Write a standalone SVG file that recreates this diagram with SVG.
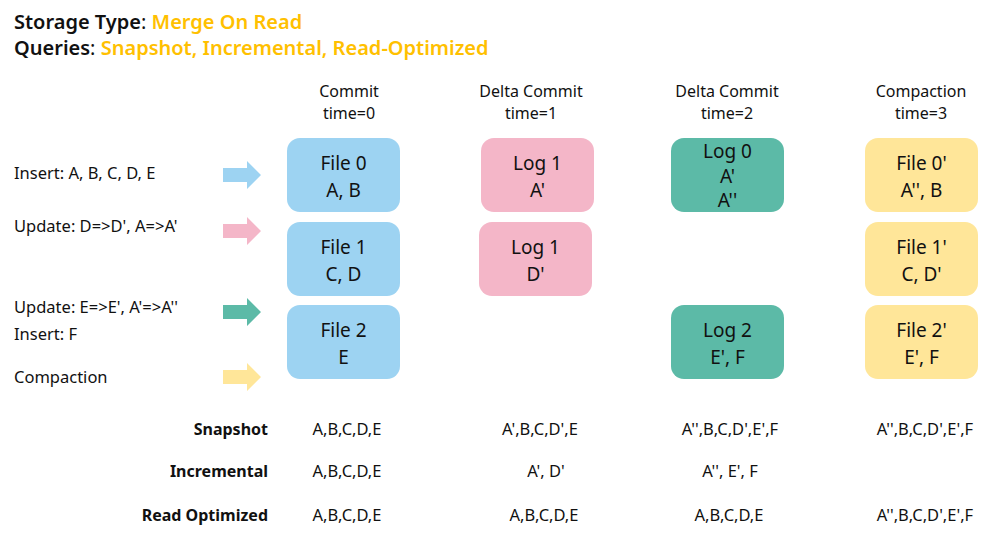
<svg xmlns="http://www.w3.org/2000/svg" width="1005" height="542" viewBox="0 0 1005 542">
<style>
text{font-family:"Noto Sans","Liberation Sans",sans-serif;fill:#111}
.title{font-size:20px;font-weight:600}
.hl{fill:#FFC000}
.hdr{font-size:16px;text-anchor:middle}
.lbl{font-size:16.5px}
.box{font-size:19px;text-anchor:middle}
.rowh{font-size:16px;font-weight:bold;text-anchor:end}
.val{font-size:16.5px;text-anchor:middle}
.blue{fill:#9DD3F2}
.pink{fill:#F4B6C8}
.green{fill:#5CBAA7}
.yellow{fill:#FFE699}
</style>
<rect width="1005" height="542" fill="#fff"/>
<g id="title">
<text class="title" x="14" y="29">Storage Type<tspan font-weight="normal">: </tspan><tspan class="hl">Merge On Read</tspan></text>
<text class="title" x="14" y="55">Queries<tspan font-weight="normal">: </tspan><tspan class="hl">Snapshot, Incremental, Read-Optimized</tspan></text>
</g>
<g id="headers">
<text class="hdr" x="349" y="97">Commit</text><text class="hdr" x="349" y="119">time=0</text>
<text class="hdr" x="531" y="97">Delta Commit</text><text class="hdr" x="531" y="119">time=1</text>
<text class="hdr" x="727" y="97">Delta Commit</text><text class="hdr" x="727" y="119">time=2</text>
<text class="hdr" x="921" y="97">Compaction</text><text class="hdr" x="921" y="119">time=3</text>
</g>
<g id="labels">
<text class="lbl" x="14" y="179">Insert: A, B, C, D, E</text>
<text class="lbl" x="14" y="232">Update: D=&gt;D', A=&gt;A'</text>
<text class="lbl" x="14" y="313">Update: E=&gt;E', A'=&gt;A''</text>
<text class="lbl" x="14" y="340">Insert: F</text>
<text class="lbl" x="14" y="383">Compaction</text>
</g>
<g id="connectors">
<polygon class="blue" points="223,168 247,168 247,161 261,175 247,189 247,182 223,182"/>
<polygon class="pink" points="223,224 247,224 247,217 261,231 247,245 247,238 223,238"/>
<polygon class="green" points="223,305 247,305 247,298 261,312 247,326 247,319 223,319"/>
<polygon class="yellow" points="223,370 247,370 247,363 261,377 247,391 247,384 223,384"/>
</g>
<g id="file0"><rect class="blue" x="287" y="138" width="113" height="74" rx="13"/><text class="box" x="343.5" y="170">File 0</text><text class="box" x="343.5" y="197">A, B</text></g>
<g id="file1"><rect class="blue" x="287" y="222" width="113" height="74" rx="13"/><text class="box" x="343.5" y="254">File 1</text><text class="box" x="343.5" y="281">C, D</text></g>
<g id="file2"><rect class="blue" x="287" y="305" width="113" height="74" rx="13"/><text class="box" x="343.5" y="337">File 2</text><text class="box" x="343.5" y="364">E</text></g>
<g id="log1a"><rect class="pink" x="481" y="138" width="113" height="74" rx="13"/><text class="box" x="537.5" y="170">Log 1</text><text class="box" x="537.5" y="197">A'</text></g>
<g id="log1d"><rect class="pink" x="479" y="222" width="113" height="74" rx="13"/><text class="box" x="535.5" y="254">Log 1</text><text class="box" x="535.5" y="281">D'</text></g>
<g id="log0"><rect class="green" x="671" y="138" width="113" height="74" rx="13"/><text class="box" x="727.5" y="158">Log 0</text><text class="box" x="727.5" y="183">A'</text><text class="box" x="727.5" y="207">A''</text></g>
<g id="log2"><rect class="green" x="671" y="305" width="113" height="74" rx="13"/><text class="box" x="727.5" y="337">Log 2</text><text class="box" x="727.5" y="364">E', F</text></g>
<g id="file0p"><rect class="yellow" x="865" y="138" width="113" height="74" rx="13"/><text class="box" x="921.5" y="170">File 0'</text><text class="box" x="921.5" y="197">A'', B</text></g>
<g id="file1p"><rect class="yellow" x="865" y="222" width="113" height="74" rx="13"/><text class="box" x="921.5" y="254">File 1'</text><text class="box" x="921.5" y="281">C, D'</text></g>
<g id="file2p"><rect class="yellow" x="865" y="305" width="113" height="74" rx="13"/><text class="box" x="921.5" y="337">File 2'</text><text class="box" x="921.5" y="364">E', F</text></g>
<g id="table">
<text class="rowh" x="268" y="435">Snapshot</text>
<text class="rowh" x="268" y="477">Incremental</text>
<text class="rowh" x="268" y="521">Read Optimized</text>
<text class="val" x="347" y="435">A,B,C,D,E</text>
<text class="val" x="540" y="435">A',B,C,D',E</text>
<text class="val" x="730" y="435">A'',B,C,D',E',F</text>
<text class="val" x="925" y="435">A'',B,C,D',E',F</text>
<text class="val" x="347" y="477">A,B,C,D,E</text>
<text class="val" x="546" y="477">A', D'</text>
<text class="val" x="730" y="477">A'', E', F</text>
<text class="val" x="347" y="521">A,B,C,D,E</text>
<text class="val" x="544" y="521">A,B,C,D,E</text>
<text class="val" x="729" y="521">A,B,C,D,E</text>
<text class="val" x="925" y="521">A'',B,C,D',E',F</text>
</g>
</svg>
